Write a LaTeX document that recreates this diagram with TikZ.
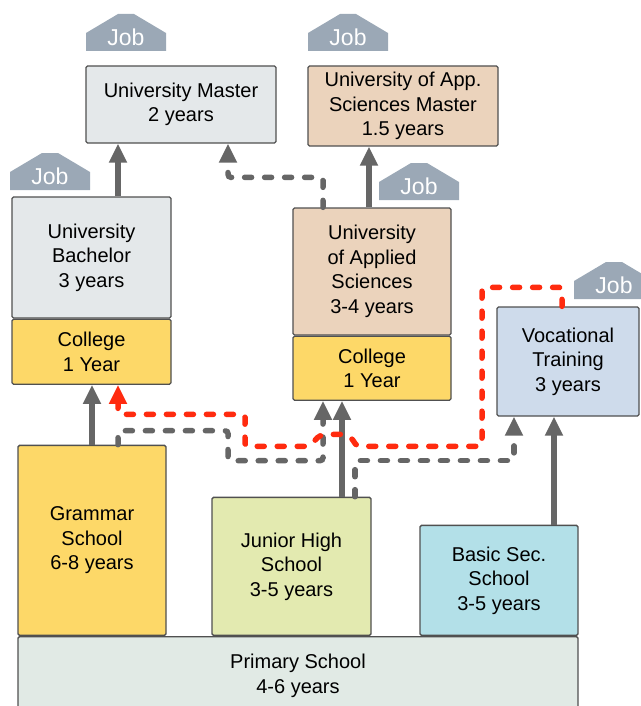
\documentclass[tikz,border=0pt]{standalone}
\usepackage{fontspec}
\setmainfont{Liberation Sans}
\usetikzlibrary{arrows.meta, positioning}

\definecolor{edgegray}{HTML}{505050}
\definecolor{mastergray}{HTML}{E4E8EA}
\definecolor{peach}{HTML}{EBD3BC}
\definecolor{collegeyellow}{HTML}{FDD868}
\definecolor{juniorgreen}{HTML}{E3EAB0}
\definecolor{basiccyan}{HTML}{B3E0E8}
\definecolor{vocblue}{HTML}{CEDBEB}
\definecolor{primarygray}{HTML}{E1EAE5}
\definecolor{jobgray}{HTML}{9BA8B6}
\definecolor{arrowgray}{HTML}{666666}
\definecolor{routered}{HTML}{FF2B0F}

\begin{document}
\begin{tikzpicture}[x=1pt, y=-1pt,
    box/.style={draw=edgegray, line width=1.3pt, rounded corners=1.5pt, align=center, inner sep=0pt, font=\fontsize{20}{24.5}\selectfont},
    box master/.style={box, fill=mastergray},
    box peach/.style={box, fill=peach},
    box college/.style={box, fill=collegeyellow},
    box junior/.style={box, fill=juniorgreen},
    box basic/.style={box, fill=basiccyan},
    box voc/.style={box, fill=vocblue},
    box primary/.style={box, fill=primarygray},
    jobtext/.style={text=white, inner sep=0pt, font=\fontsize{23}{23}\selectfont},
    flow/.style={-{Triangle[width=17pt,length=19pt]}, line width=5.5pt, draw=arrowgray},
    alt/.style={flow, line width=5.5pt, dash pattern=on 7pt off 13pt, line cap=round, rounded corners=3pt},
    alt red/.style={alt, draw=routered, -{Triangle[width=17pt,length=19pt]}}
  ]
    \useasboundingbox (0,0) rectangle (640,706);

    % schools
    \node[box primary, minimum width=560, minimum height=78, anchor=north] (prim) at (298,636) {Primary School\\4-6 years};
    \node[box college, minimum width=148, minimum height=190, anchor=south] (gram) at (92,636) {Grammar\\School\\6-8 years};
    \node[box junior, minimum width=159, minimum height=138, anchor=south] (jhs) at (291.5,636) {Junior High\\School\\3-5 years};
    \node[box basic, minimum width=158, minimum height=110, anchor=south] (bss) at (499,636) {Basic Sec.\\School\\3-5 years};

    % higher education
    \node[box master, minimum width=159, minimum height=121] (ub) at (91.5,257.5) {University\\Bachelor\\3 years};
    \node[box college, minimum width=159, minimum height=65, below=0pt of ub] (cola) {College\\1 Year};
    \node[box peach, minimum width=158, minimum height=127] (uas) at (372,271.5) {University\\of Applied\\Sciences\\3-4 years};
    \node[box college, minimum width=158, minimum height=64, below=0pt of uas] (colb) {College\\1 Year};
    \node[box voc, minimum width=142, minimum height=109] (voc) at (568,361.5) {Vocational\\Training\\3 years};
    \node[box master, minimum width=190, minimum height=77] (um) at (181,104.5) {University Master\\2 years};
    \node[box peach, minimum width=190, minimum height=80] (uasm) at (403,106) {University of App.\\Sciences Master\\1.5 years};

    % job signs
    \foreach \jx/\jy/\jn in {86/51/jobum, 10/190/jobub, 308/51/jobuasm, 379/200/jobuas, 574/299/jobvoc} {
      \fill[jobgray] (\jx,\jy) -- ++(0,-18) -- ++(32,-19) -- ++(16,0) -- ++(32,19) -- ++(0,18) -- cycle;
      \node[jobtext] (\jn) at (\jx+40,\jy-14) {Job};
    }

    % columns of the connectors
    \coordinate (xg) at (92,0);
    \coordinate (xa) at (118,0);
    \coordinate (xm) at (228,0);
    \coordinate (xu) at (323,0);
    \coordinate (xj) at (342,0);
    \coordinate (xk) at (355,0);
    \coordinate (xs) at (369,0);
    \coordinate (xv) at (514,0);
    \coordinate (xb) at (554,0);
    \coordinate (xq) at (562,0);

    \draw[flow] (ub.north -| xa) -- (um.south -| xa);
    \draw[flow] (gram.north -| xg) -- (cola.south -| xg);
    \draw[flow] (uas.north -| xs) -- (uasm.south -| xs);
    \draw[flow] (jhs.north -| xj) -- (colb.south -| xj);
    \draw[flow] (bss.north -| xb) -- (voc.south -| xb);

    \draw[alt] (uas.north -| xu) -- ++(0,-30) -| (um.south -| xm);
    \draw[alt] (gram.north -| xa) -- ++(0,-14) -| ++(110,30) -| (colb.south -| xu);
    \draw[alt] (jhs.north -| xk) -- ++(0,-36) -| (voc.south -| xv);

    \draw[alt red] (voc.north -| xq) -- ++(0,-19) -| ++(-80,159) -- ++(-125,0)
      [rounded corners=7pt] -- ++(-8,-12) -- ++(-30,0) -- ++(-8,12)
      [rounded corners=3pt] -| ++(-66,-32) -| (cola.south -| xa);
  \end{tikzpicture}
\end{document}
